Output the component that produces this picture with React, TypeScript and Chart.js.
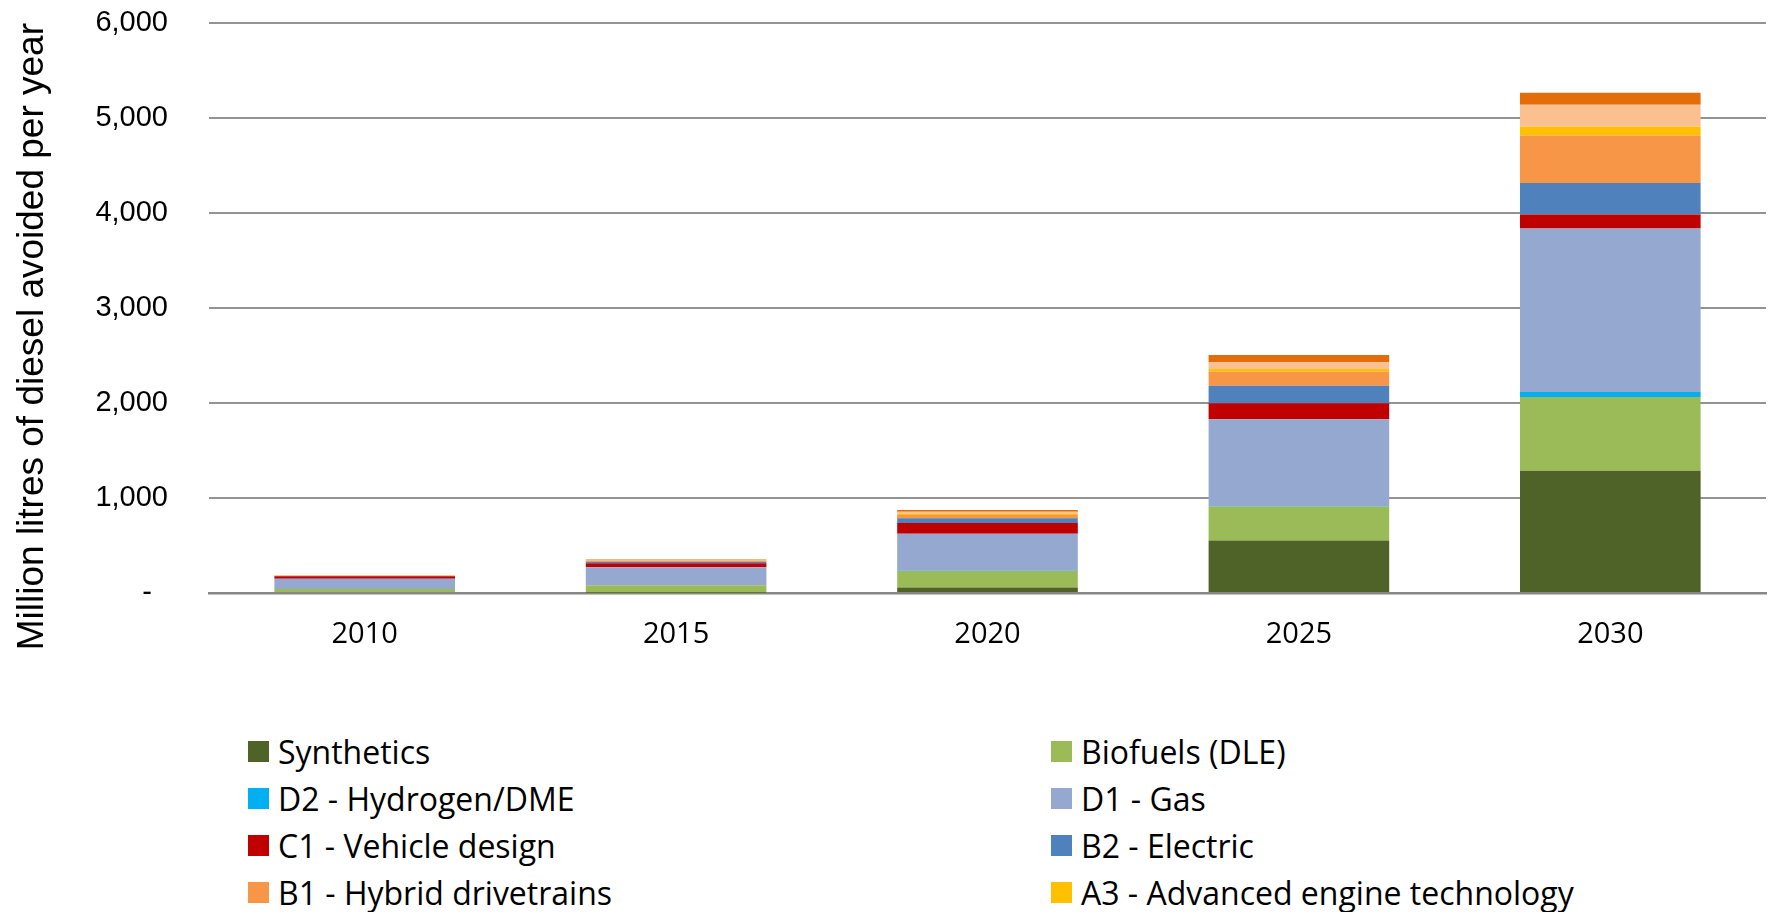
import React, { useEffect, useRef } from "react";
import { Chart, registerables } from "chart.js";

Chart.register(...registerables);

const categories = ["2010", "2015", "2020", "2025", "2030"];
const synthetics = [0, 2, 57, 552, 1286];
const biofuels = [42, 79, 175, 359, 777];
const d2Hydrogen = [0, 0, 2, 6, 53];
const d1Gas = [109, 190, 390, 911, 1722];
const c1Vehicle = [25, 42, 113, 169, 147];
const b2Electric = [2, 16, 49, 185, 331];
const b1Hybrid = [3, 12, 35, 148, 499];
const a3Engine = [1, 3, 14, 28, 92];
const a2Series = [3, 6, 21, 71, 232];
const a1Series = [2, 4, 18, 77, 126];

const seriesLabels = [
  "Synthetics",
  "Biofuels (DLE)",
  "D2 - Hydrogen/DME",
  "D1 - Gas",
  "C1 - Vehicle design",
  "B2 - Electric",
  "B1 - Hybrid drivetrains",
  "A3 - Advanced engine technology",
  "A2",
  "A1",
];
const seriesValues = [
  synthetics,
  biofuels,
  d2Hydrogen,
  d1Gas,
  c1Vehicle,
  b2Electric,
  b1Hybrid,
  a3Engine,
  a2Series,
  a1Series,
];
const seriesColors = [
  "#4F6228",
  "#9BBB59",
  "#00B0F0",
  "#95A9D0",
  "#C00000",
  "#4F81BD",
  "#F79646",
  "#FFC000",
  "#FAC090",
  "#E46C0A",
];
const visibleLegendCount = 8;

const yTitle = "Million litres of diesel avoided per year";

export default function App() {
  const canvasRef = useRef<HTMLCanvasElement | null>(null);

  useEffect(() => {
    if (!canvasRef.current) return;
    const chart = new Chart(canvasRef.current, {
      type: "bar",
      data: {
        labels: categories,
        datasets: seriesLabels.map((label, i) => ({
          label,
          data: seriesValues[i],
          backgroundColor: seriesColors[i],
          borderWidth: 0,
          categoryPercentage: 1,
          barPercentage: 0.58,
        })),
      },
      options: {
        animation: false,
        responsive: false,
        devicePixelRatio: 1,
        layout: { padding: { left: 0, right: 23, top: 23, bottom: 0 } },
        plugins: {
          legend: { display: false },
          tooltip: { enabled: false },
        },
        scales: {
          x: {
            stacked: true,
            grid: { display: false, drawTicks: false },
            border: { display: true, color: "#878787", width: 2.5 },
            ticks: {
              color: "#000000",
              padding: 24,
              font: { family: "Open Sans", size: 29 },
            },
            afterFit: (s: any) => {
              s.height = 87;
            },
          },
          y: {
            stacked: true,
            min: 0,
            max: 6000,
            grid: {
              color: "#939393",
              lineWidth: 2,
              drawTicks: false,
            },
            border: { display: false },
            ticks: {
              stepSize: 1000,
              color: "#000000",
              padding: 41,
              font: { family: "Liberation Sans", size: 29 },
              callback: (v: any) =>
                Number(v) === 0 ? "-  " : Number(v).toLocaleString("en-US"),
            },
            title: {
              display: true,
              text: yTitle,
              align: "end",
              color: "#000000",
              padding: { top: 11, bottom: 0 },
              font: { family: "Liberation Sans", size: 37 },
            },
            afterFit: (s: any) => {
              s.width = 209;
              s.paddingTop = 17;
              s.paddingBottom = 17;
            },
          },
        },
      },
    });
    return () => chart.destroy();
  }, []);

  return (
    <div
      style={{
        position: "absolute",
        left: 0,
        top: 0,
        width: 1789,
        height: 912,
        overflow: "hidden",
        background: "#ffffff",
      }}
    >
      <canvas
        ref={canvasRef}
        width={1789}
        height={680}
        style={{ position: "absolute", left: 0, top: 0, width: 1789, height: 680 }}
      />
      <div
        style={{
          position: "absolute",
          left: 248,
          top: 728,
          width: 1520,
          display: "grid",
          gridTemplateColumns: "803px 700px",
          fontFamily: "'Open Sans', sans-serif",
          fontSize: 32,
          color: "#000000",
        }}
      >
        {seriesLabels.slice(0, visibleLegendCount).map((label, i) => (
          <div
            key={label}
            style={{
              display: "flex",
              alignItems: "center",
              height: 47,
              lineHeight: "47px",
              whiteSpace: "nowrap",
            }}
          >
            <span
              style={{
                display: "inline-block",
                width: 21,
                height: 21,
                marginRight: 9,
                background: seriesColors[i],
                flex: "none",
              }}
            />
            <span>{label}</span>
          </div>
        ))}
      </div>
    </div>
  );
}
